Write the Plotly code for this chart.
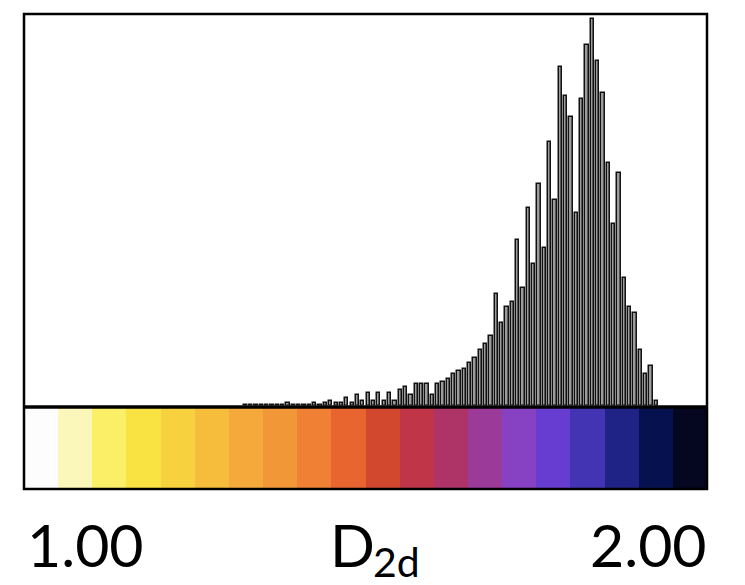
import plotly.graph_objects as go

# Histogram of D2d: 128 bins over [1, 2]; only bins 41..118 are populated
n_bins = 128
first_bin = 41
counts = [
    1, 1, 1, 1, 1, 1, 1, 1, 3, 1,
    1, 1, 1, 3, 1, 3, 5, 3, 3, 8,
    3, 11, 5, 13, 5, 13, 5, 13, 5, 16,
    19, 11, 22, 22, 22, 11, 22, 24, 27, 32,
    35, 37, 43, 48, 56, 62, 70, 112, 83, 99,
    104, 166, 118, 198, 142, 222, 158, 264, 206, 339,
    310, 289, 193, 307, 361, 387, 345, 313, 243, 182,
    233, 128, 99, 93, 56, 32, 40, 5,
]

# Discrete colour key drawn under the histogram (20 steps from 1.00 to 2.00)
key_colors = [
    "#fdfdfd", "#fbf7bb", "#fbef68", "#f9e343", "#f8d13f",
    "#f5bd3b", "#f4a93a", "#f19738", "#ef8034", "#e86530",
    "#d2482e", "#c13548", "#ae3468", "#9c3a9a", "#8741c3",
    "#663dd0", "#4334b3", "#1f2385", "#06124f", "#050620",
]

x_min, x_max = 1.0, 2.0
label_left, label_right = "1.00", "2.00"
axis_symbol, axis_sub = "D", "2d"

bw = (x_max - x_min) / n_bins
bin_centers = [x_min + (first_bin + i + 0.5) * bw for i in range(len(counts))]

n_keys = len(key_colors)
kw = (x_max - x_min) / n_keys
key_centers = [x_min + (k + 0.5) * kw for k in range(n_keys)]

fig = go.Figure()

fig.add_trace(go.Bar(
    x=bin_centers, y=counts, width=bw * 0.62,
    marker=dict(color="#9c9c9c", line=dict(color="#111111", width=1.5)),
    xaxis="x", yaxis="y", showlegend=False, hoverinfo="skip",
))

fig.add_trace(go.Bar(
    x=key_centers, y=[1] * n_keys, width=kw,
    marker=dict(color=key_colors, line=dict(width=0)),
    xaxis="x2", yaxis="y2", showlegend=False, hoverinfo="skip",
))

W, H = 745, 585
left, right, top, bottom = 24, 707, 14, 489
split = 407
plot_w = right - left
plot_h = bottom - top
split_frac = (bottom - split) / plot_h


def px_x(x):
    return (x - left) / plot_w


def px_y(y):
    return (bottom - y) / plot_h


label_font = dict(family="Lato", size=59, color="black")

fig.update_layout(
    width=W, height=H,
    margin=dict(l=left, r=W - right, t=top, b=H - bottom, pad=0),
    paper_bgcolor="white", plot_bgcolor="white",
    bargap=0,
    xaxis=dict(range=[x_min, x_max], domain=[0, 1], visible=False, fixedrange=True),
    yaxis=dict(range=[0, 392], domain=[split_frac + 0.003, 1], visible=False, fixedrange=True),
    xaxis2=dict(range=[x_min, x_max], domain=[0, 1], anchor="y2", visible=False, fixedrange=True),
    yaxis2=dict(range=[0, 1], domain=[0, split_frac], anchor="x2", visible=False, fixedrange=True),
    shapes=[
        dict(type="rect", xref="paper", yref="paper", x0=0, x1=1, y0=0, y1=1,
             line=dict(color="black", width=2.5), layer="above"),
        dict(type="line", xref="paper", yref="paper", x0=0, x1=1, y0=split_frac, y1=split_frac,
             line=dict(color="black", width=3.5), layer="above"),
    ],
    annotations=[
        dict(text=label_left, xref="paper", yref="paper",
             x=px_x(25), y=px_y(544), xanchor="left", yanchor="middle",
             showarrow=False, font=label_font),
        dict(text=axis_symbol, xref="paper", yref="paper",
             x=px_x(328), y=px_y(544), xanchor="left", yanchor="middle",
             showarrow=False, font=label_font),
        dict(text=axis_sub, xref="paper", yref="paper",
             x=px_x(371), y=px_y(561), xanchor="left", yanchor="middle",
             showarrow=False, font=dict(family="Lato", size=41, color="black")),
        dict(text=label_right, xref="paper", yref="paper",
             x=px_x(709), y=px_y(544), xanchor="right", yanchor="middle",
             showarrow=False, font=label_font),
    ],
)

fig.write_html("out.html")
